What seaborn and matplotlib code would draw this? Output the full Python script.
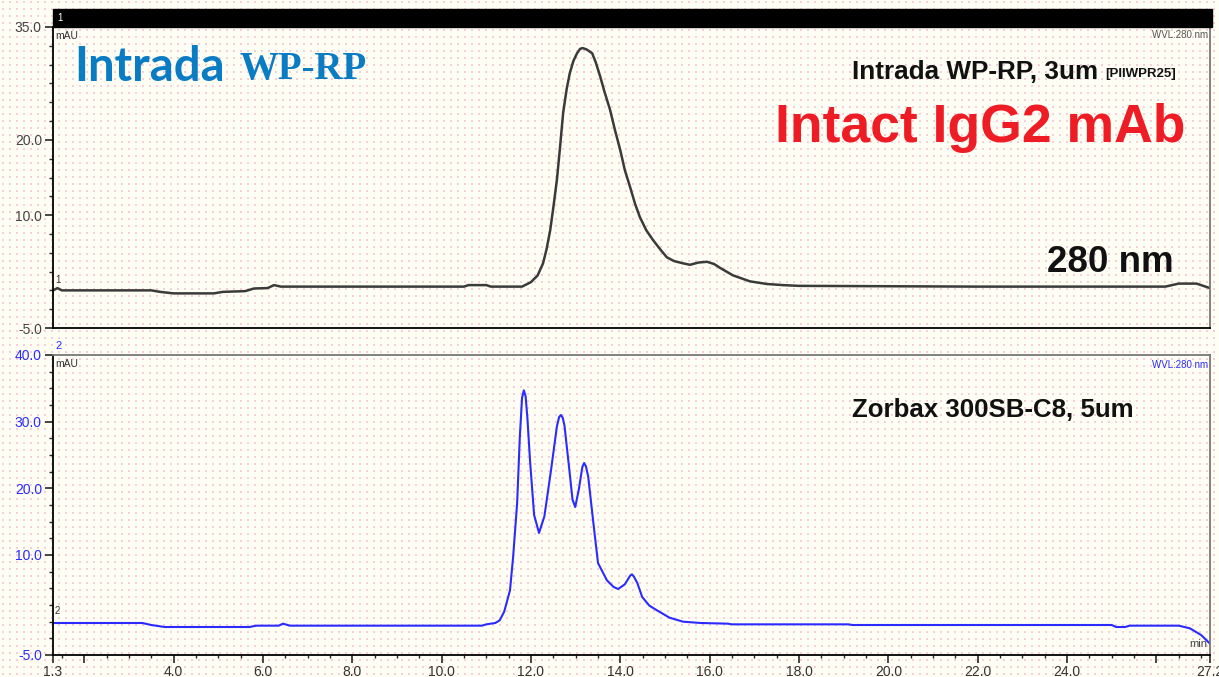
import numpy as np
import pandas as pd
import seaborn as sns
import matplotlib.pyplot as plt
from matplotlib.patches import Rectangle
from matplotlib.ticker import MultipleLocator

# --- data (time in min, signal in mAU) ---
t_intrada = [1.3, 1.4, 1.5, 3.5, 3.7, 4.0, 4.9, 5.1, 5.6, 5.8, 6.1, 6.25, 6.4, 8.0, 10.5,
             10.6, 11.0, 11.1, 11.8, 12.0, 12.15, 12.27, 12.35, 12.43, 12.5, 12.58, 12.65,
             12.72, 12.8, 12.87, 12.95, 13.03, 13.1, 13.16, 13.25, 13.37, 13.45, 13.55,
             13.65, 13.77, 13.88, 14.0, 14.1, 14.22, 14.33, 14.44, 14.58, 14.73, 14.9,
             15.04, 15.2, 15.4, 15.56, 15.75, 15.94, 16.1, 16.23, 16.52, 16.9, 17.28,
             17.64, 18.0, 22.0, 26.2, 26.5, 26.9, 27.1, 27.2]
y_intrada = [0.0, 0.3, 0.0, 0.0, -0.2, -0.4, -0.4, -0.2, -0.1, 0.25, 0.3, 0.7, 0.5, 0.5, 0.5,
             0.7, 0.7, 0.5, 0.5, 1.1, 2.0, 3.6, 5.5, 8.0, 11.0, 14.7, 19.0,
             23.6, 26.8, 28.9, 30.5, 31.5, 32.1, 32.2, 32.0, 31.5, 30.3, 28.4,
             26.3, 24.0, 21.3, 18.6, 16.0, 13.7, 11.5, 9.7, 8.0, 6.7, 5.4,
             4.4, 3.9, 3.6, 3.4, 3.7, 3.8, 3.5, 3.0, 2.0, 1.2, 0.85,
             0.7, 0.6, 0.5, 0.5, 0.9, 0.9, 0.5, 0.3]

t_zorbax = [1.3, 3.3, 3.5, 3.8, 4.1, 5.7, 5.85, 6.35, 6.45, 6.6, 10.9, 11.0, 11.2, 11.3,
            11.4, 11.53, 11.6, 11.69, 11.75, 11.8, 11.84, 11.88, 11.92, 11.98, 12.07, 12.18,
            12.3, 12.45, 12.58, 12.63, 12.67, 12.71, 12.75, 12.85, 12.93, 12.99, 13.07,
            13.15, 13.19, 13.23, 13.28, 13.39, 13.5, 13.7, 13.85, 13.95, 14.1, 14.22, 14.26,
            14.3, 14.38, 14.49, 14.65, 14.82, 15.1, 15.4, 15.8, 16.4, 16.5, 19.1, 19.2,
            25.0, 25.1, 25.3, 25.4, 26.5, 26.75, 27.0, 27.2]
y_zorbax = [-0.2, -0.2, -0.5, -0.8, -0.8, -0.8, -0.6, -0.6, -0.3, -0.6, -0.6, -0.4, -0.2, 0.2,
            1.5, 4.7, 9.7, 17.8, 27.7, 33.6, 34.7, 33.8, 30.5, 24.0, 16.0, 13.3,
            15.8, 22.8, 29.3, 30.7, 31.0, 30.6, 29.4, 23.3, 18.3, 17.2, 19.8,
            23.2, 23.8, 23.3, 21.8, 15.2, 8.8, 6.2, 5.2, 4.9, 5.6, 6.9, 7.1,
            6.8, 5.8, 3.7, 2.4, 1.7, 0.6, 0.0, -0.2, -0.3, -0.4, -0.4, -0.5,
            -0.5, -0.8, -0.8, -0.6, -0.6, -1.0, -2.0, -3.3]

xtick_pos = [1.3, 2, 4, 6, 8, 10, 12, 14, 16, 18, 20, 22, 24, 26, 27.2]
xtick_lab = ["1.3", "", "4.0", "6.0", "8.0", "10.0", "12.0", "14.0", "16.0",
             "18.0", "20.0", "22.0", "24.0", "", "27.2"]
ytick_top = [-5, 10, 20, 35]
ytick_bot = [-5, 10, 20, 30, 40]

df_top = pd.DataFrame({"time": t_intrada, "mAU": y_intrada})
df_bot = pd.DataFrame({"time": t_zorbax, "mAU": y_zorbax})

sns.set_style("white")
plt.rcParams['font.family'] = ['Liberation Sans', 'DejaVu Sans']

W, H = 1219, 677
fig = plt.figure(figsize=(W / 100, H / 100), dpi=100, facecolor="#fffef4")


def fx(px):
    return px / W


def fy(py):
    return 1 - py / H


# dotted paper background
bg = fig.add_axes([0, 0, 1, 1], zorder=-10)
bg.set_xlim(0, W)
bg.set_ylim(0, H)
gx, gy = np.meshgrid(np.arange(3, W, 7), np.arange(3, H, 7))
bg.scatter(gx.ravel(), gy.ravel(), s=0.8, marker="s", color="#f6cfd8", linewidths=0)
bg.axis("off")

blue = "#2b2bff"
ax1 = fig.add_axes([fx(53), fy(328), fx(1210) - fx(53), fy(27) - fy(328)])
ax2 = fig.add_axes([fx(53), fy(655), fx(1210) - fx(53), fy(355) - fy(655)])

sns.lineplot(data=df_top, x="time", y="mAU", ax=ax1, color="#3a3a3a", lw=1.8)
sns.lineplot(data=df_bot, x="time", y="mAU", ax=ax2, color=blue, lw=1.5)

for ax in (ax1, ax2):
    ax.set_facecolor("none")
    ax.set_xlim(1.3, 27.2)
    ax.set_xlabel("")
    ax.set_ylabel("")
    ax.spines["left"].set_color("black")
    ax.spines["bottom"].set_color("black")
    ax.spines["right"].set_color("#777777")
    ax.spines["top"].set_color("#777777")
    for s in ax.spines.values():
        s.set_linewidth(1.3)
    ax.yaxis.set_minor_locator(MultipleLocator(2.5))
    ax.tick_params(axis="y", which="major", direction="out", length=6, width=1.2,
                   labelsize=10, left=True, pad=2)
    ax.tick_params(axis="y", which="minor", direction="out", length=3, width=1, left=True)

ax1.set_ylim(-5, 35)
ax1.set_yticks(ytick_top)
ax1.set_yticklabels(["-5.0", "10.0", "20.0", "35.0"], color="#444444")
ax1.set_xticks([])
ax1.spines["top"].set_visible(False)

ax2.set_ylim(-5, 40)
ax2.set_yticks(ytick_bot)
ax2.set_yticklabels(["-5.0", "10.0", "20.0", "30.0", "40.0"], color=blue)
ax2.set_xticks(xtick_pos)
ax2.set_xticklabels(xtick_lab, color="#333333")
ax2.xaxis.set_minor_locator(MultipleLocator(0.5))
ax2.tick_params(axis="x", which="major", direction="out", length=6, width=1.2,
                labelsize=10, bottom=True, pad=1)
ax2.tick_params(axis="x", which="minor", direction="out", length=2.5, width=1, bottom=True)

# black title bar of panel 1
fig.patches.append(Rectangle((fx(53), fy(27)), fx(1212) - fx(53), fy(9) - fy(27),
                             transform=fig.transFigure, color="black", zorder=5))
fig.text(fx(57), fy(18), "1", color="white", fontsize=7, va="center", zorder=6)

# small Chromeleon annotations
fig.text(fx(55), fy(36), "mAU", fontsize=7.5, color="#333333", va="center")
fig.text(fx(55), fy(364), "mAU", fontsize=7.5, color="#333333", va="center")
fig.text(fx(1208), fy(35), "WVL:280 nm", fontsize=7, color="#555555", ha="right", va="center")
fig.text(fx(1208), fy(365), "WVL:280 nm", fontsize=7, color=blue, ha="right", va="center")
fig.text(fx(55), fy(280), "1", fontsize=7, color="#333333", va="center")
fig.text(fx(55), fy(346), "2", fontsize=8, color=blue, va="center")
fig.text(fx(55), fy(611), "2", fontsize=7, color="#333333", va="center")
fig.text(fx(1207), fy(644), "min", fontsize=8, color="#444444", ha="right", va="center")

# logo
fig.text(fx(74), fy(67), "Intrada", fontsize=34, color="#0a7cc4", fontweight="bold",
         family=["Lato", "DejaVu Sans"], va="center")
fig.text(fx(240), fy(69), "WP-RP", fontsize=28, color="#0a7cc4", fontweight="bold",
         family=["Liberation Serif", "DejaVu Serif"], va="center")

# labels
fig.text(fx(852), fy(72), "Intrada WP-RP, 3um", fontsize=18.8, fontweight="bold",
         color="#111111", va="center")
fig.text(fx(1105), fy(74), "[PIIWPR25]", fontsize=9.5, fontweight="bold",
         color="#111111", va="center")
fig.text(fx(775), fy(128), "Intact IgG2 mAb", fontsize=38.5, fontweight="bold",
         color="#ee1c25", va="center")
fig.text(fx(1047), fy(262), "280 nm", fontsize=26.5, fontweight="bold",
         color="#111111", va="center")
fig.text(fx(852), fy(410), "Zorbax 300SB-C8, 5um", fontsize=18.6, fontweight="bold",
         color="#111111", va="center")

fig.savefig("out.png", dpi=100, facecolor=fig.get_facecolor())
